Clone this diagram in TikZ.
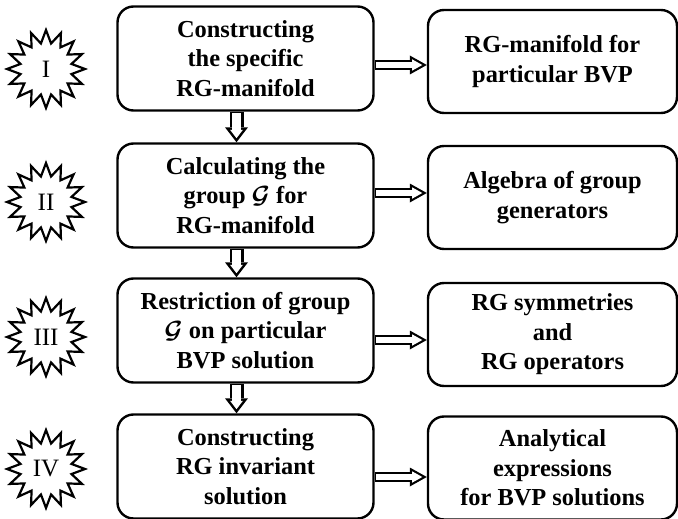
\documentclass[tikz,border=0pt]{standalone}
\usepackage{amsmath, amssymb, bm}
\usepackage{fontspec}
\setmainfont{Liberation Serif}
\usetikzlibrary{shapes.geometric, arrows.meta}

\tikzset{
  stage/.style={draw, line width=2.4pt, rounded corners=16pt, align=center,
    font=\fontsize{24.4}{29.5}\selectfont\bfseries,
    minimum width=256pt, minimum height=104pt, inner sep=0pt},
  result/.style={stage, minimum width=249pt, minimum height=103pt},
  badge/.style={star, star points=16, star point ratio=1.5, draw, line width=2.2pt,
    minimum size=78pt, inner sep=0pt, font=\fontsize{25}{29}\selectfont},
  flowdown/.style={white, line width=9pt, shorten <=1.5pt, shorten >=4.1pt,
    -{Triangle[length=8.4pt, width=12.9pt, line width=0pt]},
    preaction={draw=black, line width=14pt, shorten <=0pt, shorten >=0pt,
      -{Triangle[length=15pt, width=23pt, line width=0pt]}}},
  flowright/.style={white, line width=5.6pt, shorten <=1.5pt, shorten >=4.5pt,
    -{Triangle[length=10.3pt, width=11.5pt, line width=0pt]},
    preaction={draw=black, line width=10pt, shorten <=0pt, shorten >=0pt,
      -{Triangle[length=17pt, width=19pt, line width=0pt]}}}
}

\begin{document}
\begin{tikzpicture}[x=1pt, y=-1pt]
\useasboundingbox (0,0) rectangle (678,519);
%%%  nodes

% stage nodes
\node [stage] (s1) at (245.5,58.5) {Constructing\\the specific\\RG-manifold};
\node [stage] (s2) at (245.5,195.5) {Calculating the\\group $\boldsymbol{\mathcal{G}}$ for\\RG-manifold};
\node [stage] (s3) at (245.5,330.5) {Restriction of group\\$\boldsymbol{\mathcal{G}}$ on particular\\BVP solution};
\node [stage] (s4) at (245.5,466.5) {Constructing\\RG invariant\\solution};

% result nodes
\node [result] (r1) at (552.5,61.5) {RG-manifold for\\particular BVP};
\node [result] (r2) at (552.5,197.5) {Algebra of group\\generators};
\node [result] (r3) at (552.5,334.5) {RG symmetries\\and\\RG operators};
\node [result] (r4) at (552.5,468) {Analytical\\expressions\\for BVP solutions};

% star nodes
\node [badge] (b1) at (46,69) {I};
\node [badge] (b2) at (46,202) {II};
\node [badge] (b3) at (46,337) {III};
\node [badge] (b4) at (46,469) {IV};

%%% edges

% down the stages
\draw [flowdown] ([xshift=-9pt]s1.south) -- ([xshift=-9pt]s2.north);
\draw [flowdown] ([xshift=-9pt]s2.south) -- ([xshift=-9pt]s3.north);
\draw [flowdown] ([xshift=-9pt]s3.south) -- ([xshift=-9pt]s4.north);

% stage to result
\draw [flowright] ([yshift=-3.5pt]s1.east |- r1.west) -- ([yshift=-3.5pt]r1.west);
\draw [flowright] ([yshift=4.5pt]s2.east |- r2.west) -- ([yshift=4.5pt]r2.west);
\draw [flowright] ([yshift=-5.5pt]s3.east |- r3.west) -- ([yshift=-5.5pt]r3.west);
\draw [flowright] ([yshift=-9pt]s4.east |- r4.west) -- ([yshift=-9pt]r4.west);
\end{tikzpicture}
\end{document}
